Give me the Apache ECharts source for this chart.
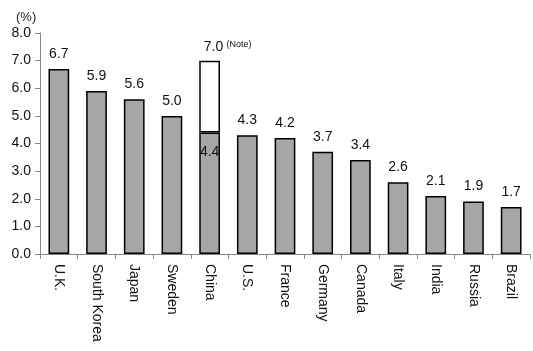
<!DOCTYPE html>
<html>
<head>
<meta charset="utf-8">
<script src="https://cdn.jsdelivr.net/npm/echarts@6/dist/echarts.min.js"></script>
<style>
html, body { margin: 0; padding: 0; background: #fff; }
#main { width: 533px; height: 351px; }
</style>
</head>
<body>
<div id="main"></div>
<script>
var categories = ['U.K.', 'South Korea', 'Japan', 'Sweden', 'China', 'U.S.', 'France', 'Germany', 'Canada', 'Italy', 'India', 'Russia', 'Brazil'];
var values = [6.7, 5.9, 5.6, 5.0, 4.4, 4.3, 4.2, 3.7, 3.4, 2.6, 2.1, 1.9, 1.7];
// China, including the noted part
var chinaIndex = 4;
var chinaTotal = 7.0;

var chartDom = document.getElementById('main');
var myChart = echarts.init(chartDom);
var option;

var baseData = values.map(function (v, i) {
    if (i === chinaIndex) {
        return { value: v, label: { position: 'insideTop', offset: [0, 5] } };
    }
    return v;
});
var noteData = categories.map(function (c, i) {
    return i === chinaIndex ? +(chinaTotal - values[i]).toFixed(1) : '-';
});

option = {
    animation: false,
    textStyle: { fontFamily: 'Liberation Sans, Arial, sans-serif' },
    title: {
        text: '(%)',
        left: 11,
        top: 6,
        textStyle: { fontSize: 13, fontWeight: 'normal', color: '#222' }
    },
    grid: {
        left: 40,
        right: 3,
        top: 33,
        bottom: 97
    },
    xAxis: {
        type: 'category',
        data: categories,
        axisLine: { lineStyle: { color: '#888' } },
        axisTick: { show: true, length: 5, lineStyle: { color: '#888' } },
        axisLabel: {
            rotate: -90,
            color: '#111',
            fontSize: 14,
            margin: 10,
            interval: 0
        }
    },
    yAxis: {
        type: 'value',
        min: 0,
        max: 8,
        interval: 1,
        splitLine: { show: false },
        axisLine: { show: true, lineStyle: { color: '#888' } },
        axisTick: { show: true, length: 5, lineStyle: { color: '#888' } },
        axisLabel: {
            color: '#111',
            fontSize: 14,
            margin: 9,
            formatter: function (v) { return v.toFixed(1); }
        }
    },
    series: [
        {
            name: 'value',
            type: 'bar',
            stack: 'a',
            barWidth: '55%',
            data: baseData,
            itemStyle: { color: '#a6a6a6', borderColor: '#000', borderWidth: 1.5 },
            label: {
                show: true,
                position: 'top',
                distance: 8,
                fontSize: 14,
                color: '#111',
                formatter: function (p) { return p.value.toFixed(1); }
            }
        },
        {
            name: 'note',
            type: 'bar',
            stack: 'a',
            barWidth: '55%',
            data: noteData,
            itemStyle: { color: '#fff', borderColor: '#000', borderWidth: 1.5 },
            label: {
                show: true,
                position: 'top',
                distance: 6,
                offset: [18, 0],
                formatter: function () { return '{a|' + chinaTotal.toFixed(1) + '} {b|(Note)}'; },
                rich: {
                    a: { fontSize: 14, color: '#111' },
                    b: { fontSize: 9, color: '#111', verticalAlign: 'top', padding: [0, 0, 6, 0] }
                }
            }
        }
    ]
};
option && myChart.setOption(option);
</script>
</body>
</html>
